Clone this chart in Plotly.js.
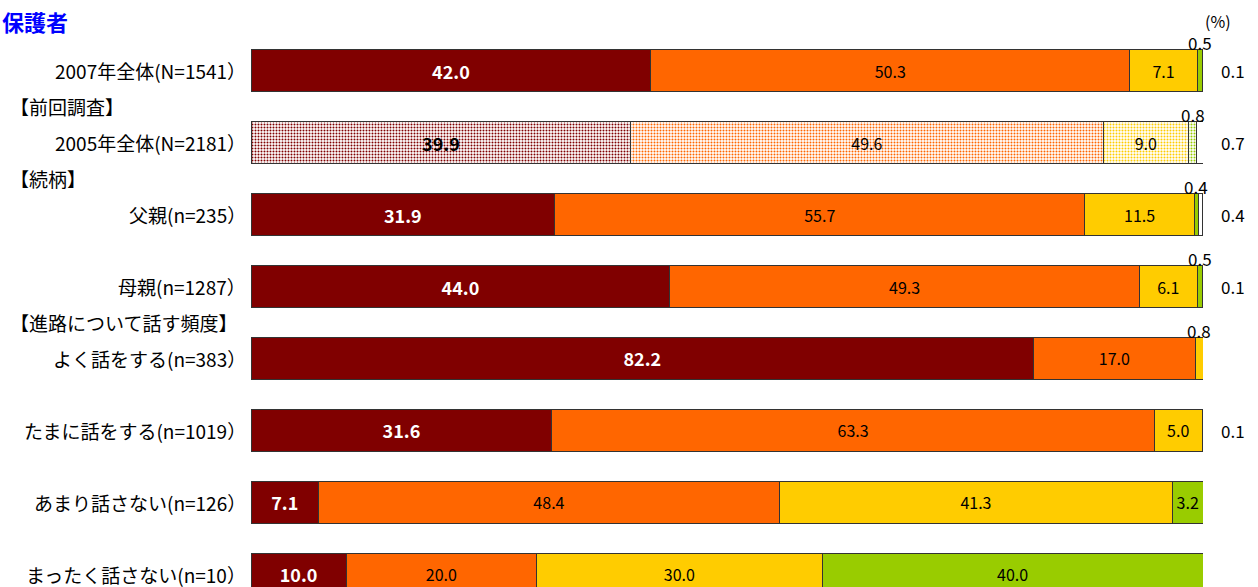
<!DOCTYPE html>
<html>
<head>
<meta charset="utf-8">
<script src="https://cdn.plot.ly/plotly-3.0.1.min.js"></script>
<style>html,body{margin:0;padding:0;background:#fff;}</style>
</head>
<body>
<div id="chart" style="width:1258px;height:587px;"></div>
<script>
// ---- data ----
const categories = [
  "2007年全体(N=1541）",
  "2005年全体(N=2181）",
  "父親(n=235）",
  "母親(n=1287）",
  "よく話をする(n=383）",
  "たまに話をする(n=1019）",
  "あまり話さない(n=126）",
  "まったく話さない(n=10）"
];
const groupHeaders = ["【前回調査】", "【続柄】", "【進路について話す頻度】"];
const groupHeaderPos = [0.5, 1.5, 3.5];
const series1 = [42.0, 39.9, 31.9, 44.0, 82.2, 31.6, 7.1, 10.0];
const series2 = [50.3, 49.6, 55.7, 49.3, 17.0, 63.3, 48.4, 20.0];
const series3 = [7.1, 9.0, 11.5, 6.1, 0.8, 5.0, 41.3, 30.0];
const series4 = [0.5, 0.8, 0.4, 0.5, 0.0, 0.0, 3.2, 40.0];
const series5 = [0.1, 0.7, 0.4, 0.1, 0.0, 0.1, 0.0, 0.0];
const chartTitle = "保護者";
const unitLabel = "(%)";

// ---- styles ----
const FONT = '"Noto Sans CJK JP", "Noto Sans", sans-serif';
const colors = ["#800000", "#FF6600", "#FFCC00", "#99CC00", "#FFFFFF"];
const patternRow = 1; // 2005 row drawn with dotted pattern
const allSeries = [series1, series2, series3, series4, series5];
const yIdx = categories.map((_, i) => i);

const traces = allSeries.map((vals, s) => {
  const text = vals.map(v => (v >= 1 ? v.toFixed(1) : ""));
  const tcolor = vals.map((v, i) => (s === 0 && i !== patternRow ? "#FFFFFF" : "#000000"));
  return {
    type: "bar",
    orientation: "h",
    y: yIdx,
    x: vals,
    text: text,
    textposition: "inside",
    insidetextanchor: "middle",
    textangle: 0,
    constraintext: "none",
    textfont: {family: FONT, size: s === 0 ? 18 : 16, color: tcolor, weight: s === 0 ? 600 : 400},
    marker: {
      color: colors[s],
      line: {color: "#333333", width: 1},
      pattern: {
        shape: vals.map((v, i) => (i === patternRow ? "." : "")),
        bgcolor: "#FFFFFF",
        size: 3,
        solidity: 0.36,
        fillmode: "replace"
      }
    },
    hoverinfo: "skip",
    showlegend: false
  };
});

const annotations = [];
// title
annotations.push({xref: "paper", yref: "paper", x: (0 - 251) / 952, y: 1 - 21 / 587,
  xanchor: "left", yanchor: "middle", text: "<b>" + chartTitle + "</b>", showarrow: false,
  font: {family: FONT, size: 22, color: "#0000FF"}});
annotations.push({xref: "paper", yref: "paper", x: (1218 - 251) / 952, y: 1 - 21 / 587,
  xanchor: "center", yanchor: "middle", text: unitLabel, showarrow: false,
  font: {family: FONT, size: 16, color: "#000"}});
// category labels
categories.forEach((c, i) => {
  annotations.push({xref: "paper", yref: "y", x: -3 / 952, y: i, xanchor: "right", yanchor: "middle",
    text: c, showarrow: false, font: {family: FONT, size: 19, color: "#000"}});
});
groupHeaders.forEach((g, k) => {
  annotations.push({xref: "paper", yref: "y", x: (8 - 251) / 952, y: groupHeaderPos[k], xanchor: "left", yanchor: "middle",
    text: g, showarrow: false, font: {family: FONT, size: 19, color: "#000"}});
});
// small values above bars (series 3 & 4 below 1) and no-answer values on the right
for (let i = 0; i < categories.length; i++) {
  [2, 3].forEach(s => {
    const v = allSeries[s][i];
    if (v > 0 && v < 1) {
      let start = 0;
      for (let k = 0; k < s; k++) start += allSeries[k][i];
      annotations.push({xref: "x", yref: "y", x: start + v / 2, y: i - 0.39, xanchor: "center", yanchor: "middle",
        text: v.toFixed(1), showarrow: false, font: {family: FONT, size: 17, color: "#000"}});
    }
  });
  const v5 = series5[i];
  if (v5 > 0) {
    annotations.push({xref: "paper", yref: "y", x: (1233 - 251) / 952, y: i, xanchor: "center", yanchor: "middle",
      text: v5.toFixed(1), showarrow: false, font: {family: FONT, size: 17, color: "#000"}});
  }
}

const layout = {
  width: 1258, height: 587,
  margin: {l: 251, r: 55, t: 0, b: 0, pad: 0},
  barmode: "stack",
  bargap: 0.415,
  paper_bgcolor: "#FFFFFF",
  plot_bgcolor: "#FFFFFF",
  showlegend: false,
  xaxis: {range: [0, 100], visible: false, fixedrange: true},
  yaxis: {range: [7.18, -0.986], visible: false, fixedrange: true},
  annotations: annotations,
  font: {family: FONT}
};

Plotly.newPlot("chart", traces, layout, {displayModeBar: false, staticPlot: true});
</script>
</body>
</html>
